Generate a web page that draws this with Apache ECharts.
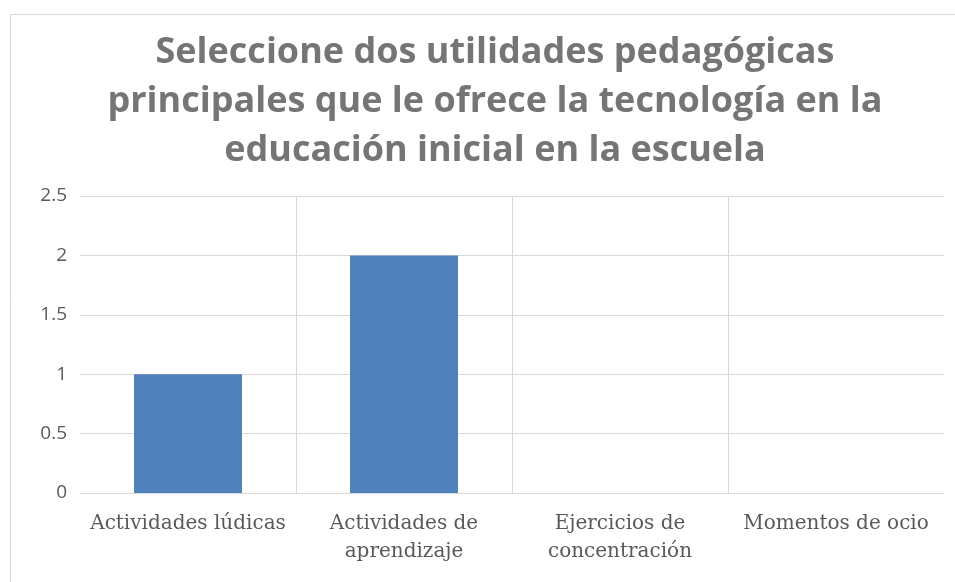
<!DOCTYPE html>
<html>
<head>
<meta charset="utf-8">
<script src="https://cdn.jsdelivr.net/npm/echarts@6/dist/echarts.min.js"></script>
<style>
  html, body { margin: 0; padding: 0; background: #fff; }
  #chart { width: 955px; height: 582px; }
</style>
</head>
<body>
<div id="chart"></div>
<script>
const categories = [
  'Actividades lúdicas',
  'Actividades de\naprendizaje',
  'Ejercicios de\nconcentración',
  'Momentos de ocio'
]
const values = [1, 2, 0, 0]
const titleText = 'Seleccione dos utilidades pedagógicas\nprincipales que le ofrece la tecnología en la\neducación inicial en la escuela'

const myChart = echarts.init(document.getElementById('chart'))
const option = {
  backgroundColor: '#fff',
  animation: false,
  graphic: [
    {
      type: 'rect',
      shape: { x: 10.5, y: 14.5, width: 960, height: 600 },
      style: { fill: 'none', stroke: '#d9d9d9', lineWidth: 1 }
    }
  ],
  title: {
    text: titleText,
    left: 490,
    top: 23,
    textAlign: 'center',
    textStyle: {
      fontFamily: 'Open Sans',
      fontWeight: 'bold',
      fontSize: 36,
      lineHeight: 49,
      color: '#757575'
    }
  },
  grid: {
    left: 80,
    right: 11,
    top: 196,
    bottom: 89
  },
  xAxis: {
    type: 'category',
    data: categories,
    axisLine: { lineStyle: { color: '#d9d9d9', width: 1 } },
    axisTick: { show: false },
    splitLine: {
      show: true,
      showMinLine: false,
      showMaxLine: false,
      lineStyle: { color: '#d9d9d9' }
    },
    axisLabel: {
      interval: 0,
      margin: 17,
      fontFamily: 'DejaVu Serif',
      fontSize: 20,
      lineHeight: 28,
      color: '#595959'
    }
  },
  yAxis: {
    type: 'value',
    min: 0,
    max: 2.5,
    interval: 0.5,
    axisLine: { show: false },
    axisTick: { show: false },
    splitLine: { lineStyle: { color: '#d9d9d9' } },
    axisLabel: {
      margin: 13,
      fontFamily: 'Open Sans',
      fontSize: 19,
      color: '#595959'
    }
  },
  series: [
    {
      type: 'bar',
      data: values,
      barWidth: '50%',
      itemStyle: { color: '#4f81bd' }
    }
  ]
}
option && myChart.setOption(option)
</script>
</body>
</html>
